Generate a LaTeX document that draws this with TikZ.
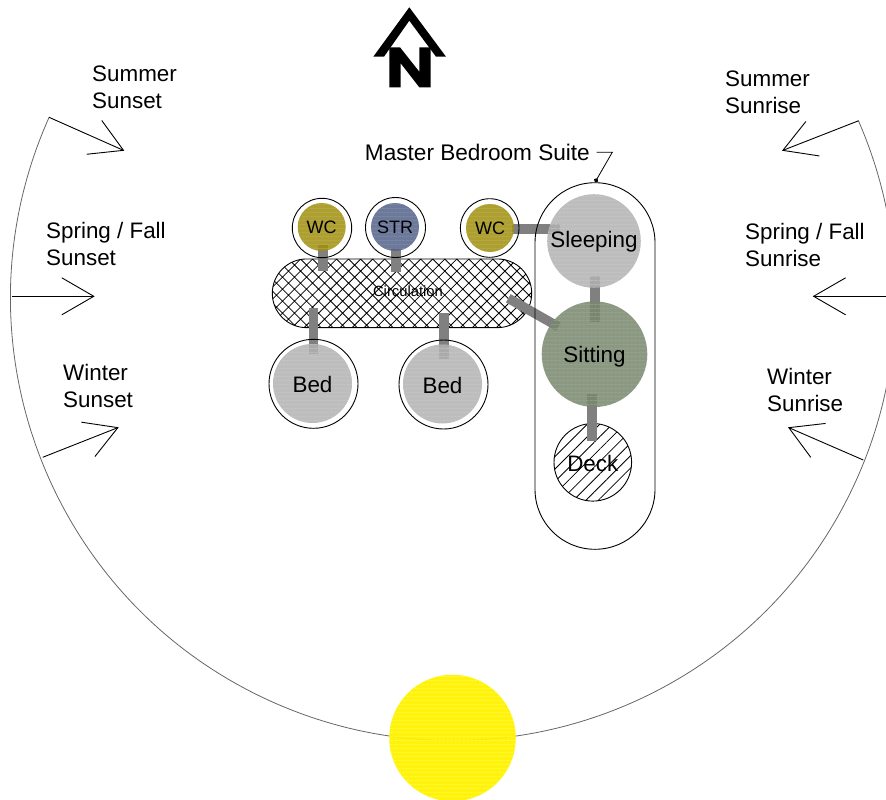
\documentclass[tikz,border=0pt]{standalone}
\usepackage{fontspec}
\setmainfont{Liberation Sans}
\usepackage{xcolor}
\usepackage{tikz}
\usetikzlibrary{arrows.meta, calc, patterns.meta}
\definecolor{linkgray}{rgb}{0.5,0.5,0.5}
\definecolor{bedgray}{rgb}{0.70,0.70,0.70}
\definecolor{sitgreen}{rgb}{0.47,0.53,0.43}
\definecolor{wcolive}{rgb}{0.63,0.56,0.06}
\definecolor{strblue}{rgb}{0.33,0.39,0.54}
\definecolor{pathgray}{rgb}{0.4,0.4,0.4}
\pgfdeclarelayer{rooms}
\pgfdeclarelayer{links}
\pgfsetlayers{rooms,links,main}
\newcommand{\bigtext}{\fontsize{22.4}{27}\selectfont}
\newcommand{\midtext}{\fontsize{18}{21}\selectfont}

\begin{document}
\begin{tikzpicture}[
    x=1pt, y=1pt, yscale=-1,
    disc/.style n args={2}{circle, inner sep=0pt, minimum size=#1, fill=#2, fill opacity=0.86, text opacity=1,
        postaction={pattern={Lines[angle=0,distance=4pt,line width=0.6pt]}, pattern color=#2!72!white}},
    ring/.style={draw, circle, inner sep=0pt, minimum size=#1, line width=0.9pt},
    link/.style={draw=linkgray, line width=9.5pt},
    season/.style={anchor=west, align=left, inner sep=0pt, font=\bigtext},
    ray/.style={-{Straight Barb[length=32pt,width=37pt]}, line width=0.9pt}
]
    \useasboundingbox (0,0) rectangle (886,800);

    % sun path and sun
    \coordinate (pathc) at (453,298);
    \draw[pathgray, line width=0.8pt] ($(pathc)+(204.1:442.5)$) coordinate (sumset)
        arc[start angle=204.1, end angle=-23.6, radius=442.5];
    \node[disc={126.5pt}{yellow}, fill opacity=0.95] (sun) at (452.5,738) {};

    % north arrow
    \fill (409.3,7.3) -- (446,56.7) -- (436,56.7) -- (409.3,20.7) -- (384,56.7) -- (373.3,56.7) -- cycle;
    \fill (389.3,47.3) -- (400,47.3) -- (419.3,71.7) -- (419.3,47.3) -- (430.7,47.3) -- (430.7,87.3)
        -- (419.3,87.3) -- (400.7,63.3) -- (400.7,87.3) -- (389.3,87.3) -- cycle;

    % suite outline
    \node[draw, line width=0.9pt, minimum width=120pt, minimum height=366.6pt, rounded corners=60pt] (suite) at (595,366) {};
    \node[anchor=east, inner sep=0pt, font=\fontsize{22.6}{27}\selectfont] (master) at (590,152) {Master Bedroom Suite};
    \coordinate (bend) at (612.3,152.3);
    \draw[{Circle[length=4.5pt]}-, line width=0.8pt] (suite.north) -- (bend) -- ($(master.east)+(6.7,0.3)$);

    % rooms
    \begin{pgfonlayer}{rooms}
        \node[draw, line width=0.9pt, minimum width=259.4pt, minimum height=68.7pt, rounded corners=34.3pt,
            pattern={Hatch[angle=45,distance=8.5pt,line width=0.8pt]}] (circ) at (402,293.3) {};
        \node[draw, circle, inner sep=0pt, minimum size=77.6pt, line width=0.9pt, font=\bigtext, text height=18.5pt,
            pattern={Lines[angle=45,distance=8.8pt,line width=0.8pt]}] (deck) at (592.8,462.3) {Deck};
    \end{pgfonlayer}
    \node[inner sep=0pt, font=\fontsize{14.8}{17}\selectfont] (circlabel) at (408,291.5) {Circulation};

    \node[ring=59.4pt] (wcaring) at (322,228) {};
    \node[ring=60pt] (strring) at (395.5,227.5) {};
    \node[ring=58.6pt] (wcbring) at (489.7,228) {};
    \node[ring=89pt] (bedaring) at (313.5,383.8) {};
    \node[ring=89pt] (bedbring) at (443.5,384.5) {};

    \node[disc={48pt}{wcolive}, font=\midtext] (wca) at (321.7,227) {WC};
    \node[disc={48pt}{strblue}, font=\midtext] (str) at (395,227) {STR};
    \node[disc={48pt}{wcolive}, font=\midtext] (wcb) at (490,228) {WC};
    \node[disc={79pt}{bedgray}, font=\bigtext, text height=18.5pt] (beda) at (312.5,383.5) {Bed};
    \node[disc={79pt}{bedgray}, font=\bigtext, text height=18.5pt] (bedb) at (442.5,384) {Bed};
    \node[disc={93.6pt}{bedgray}, font=\bigtext, text depth=3pt] (sleeping) at (594,241) {Sleeping};
    \node[disc={105.6pt}{sitgreen}, font=\bigtext, text depth=0pt] (sitting) at (594.5,354.2) {Sitting};

    % links
    \begin{pgfonlayer}{links}
        \draw[link] ($(wca)+(1.3,18)$) -- ($(circ)+(-79,-22.6)$);
        \draw[link] ($(str)+(1,21.3)$) -- ($(circ)+(-6,-21.3)$);
        \draw[link] ($(beda)+(1.2,-29.5)$) -- ($(circ)+(-88.3,15)$);
        \draw[link] ($(bedb)+(1.5,-25)$) -- ($(circ)+(42,20)$);
        \draw[link] ($(wcb)+(22,1)$) -- ($(sleeping)+(-34,-12)$);
        \draw[link] ($(sleeping)+(1,35)$) -- ($(sitting)+(0.5,-32)$);
        \draw[link] ($(sitting)+(-2.5,40.1)$) -- ($(deck)+(-0.8,-21.6)$);
        \draw[link] ($(circ)+(106.3,5)$) -- ($(sitting)+(-36.2,-27.5)$);
    \end{pgfonlayer}

    % sunset side
    \node[season] (sumsetl) at (92,87) {Summer\\Sunset};
    \node[season] (eqsetl) at (46,243.5) {Spring / Fall\\Sunset};
    \node[season] (winsetl) at (63,386) {Winter\\Sunset};
    \coordinate (sumsetend) at (124.3,150.7);
    \coordinate (eqset) at (11.7,296.3);
    \coordinate (eqsetend) at (94.7,296.3);
    \coordinate (winset) at (42.7,457.3);
    \coordinate (winsetend) at (118.7,427.3);
    \draw[ray] (sumset) -- (sumsetend);
    \draw[ray] (eqset) -- (eqsetend);
    \draw[ray] (winset) -- (winsetend);

    % sunrise side
    \node[season] (sumrisel) at (725,92.5) {Summer\\Sunrise};
    \node[season] (eqrisel) at (745,245) {Spring / Fall\\Sunrise};
    \node[season] (winrisel) at (767,390) {Winter\\Sunrise};
    \coordinate (sumrise) at (858.7,120.7);
    \coordinate (sumriseend) at (782,150.7);
    \coordinate (eqrise) at (886,296.3);
    \coordinate (eqriseend) at (812.7,296.3);
    \coordinate (winrise) at (863.3,460);
    \coordinate (winriseend) at (788,427.3);
    \draw[ray] (sumrise) -- (sumriseend);
    \draw[ray] (eqrise) -- (eqriseend);
    \draw[ray] (winrise) -- (winriseend);
\end{tikzpicture}
\end{document}
